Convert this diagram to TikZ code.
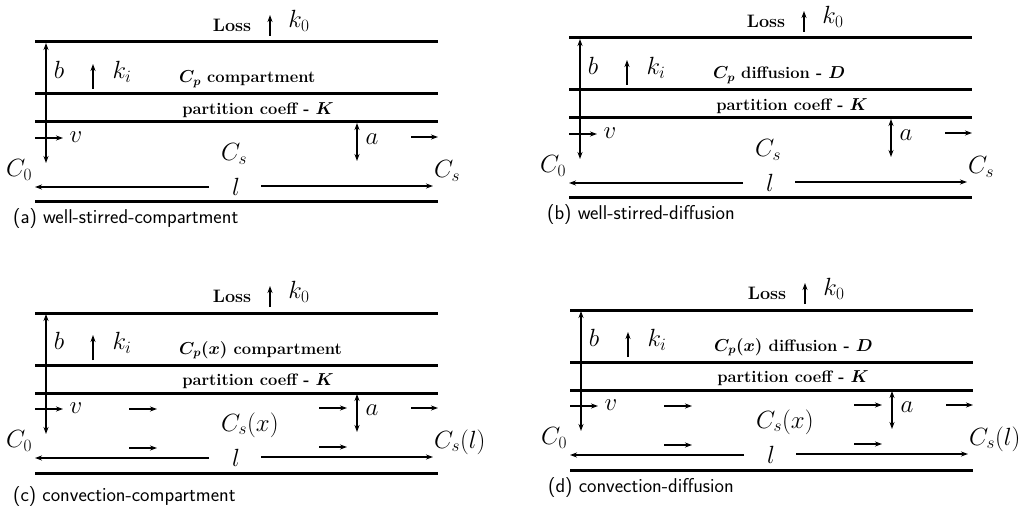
\documentclass[tikz,border=0pt]{standalone}
\usetikzlibrary{arrows.meta}
\begin{document}
\begin{tikzpicture}[x=1pt,y=-1pt,
  wall/.style={line width=3pt},
  lbl/.style={font=\bfseries\boldmath\fontsize{16.5}{19}\selectfont, inner sep=1pt},
  losstxt/.style={font=\bfseries\fontsize{18}{20}\selectfont, inner sep=1pt},
  mth/.style={font=\fontsize{23}{26}\selectfont, inner sep=1pt},
  captxt/.style={font=\sffamily\fontsize{20}{23}\selectfont, anchor=west, inner sep=0pt},
  arr/.style={line width=1.4pt, -{Stealth[length=7pt,width=5pt]}},
  darr/.style={line width=1.4pt, {Stealth[length=7pt,width=5pt]}-{Stealth[length=7pt,width=5pt]}}]
\useasboundingbox (0,0) rectangle (1026,516);
\newcommand\drawpanel[9]{%
\begin{scope}[shift={(#1,#2)}]
  % walls
  \coordinate (#3t0) at (35,42);  \coordinate (#3t1) at (438,42);
  \coordinate (#3m0) at (35,94);  \coordinate (#3m1) at (438,94);
  \coordinate (#3p0) at (35,122); \coordinate (#3p1) at (438,122);
  \coordinate (#3w0) at (35,202); \coordinate (#3w1) at (438,202);
  \draw[wall] (#3t0) -- (#3t1);
  \draw[wall] (#3m0) -- (#3m1);
  \draw[wall] (#3p0) -- (#3p1);
  \draw[wall] (#3w0) -- (#3w1);
  % loss
  \node[losstxt] (#3loss) at (232,25) {Loss};
  \coordinate (#3ua) at (270,36); \coordinate (#3ub) at (270,15);
  \draw[arr] (#3ua) -- (#3ub);
  \node[mth] (#3k0) at (299,21) {$k_0$};
  % b arrow
  \coordinate (#3b0) at (46,43); \coordinate (#3b1) at (46,163);
  \draw[darr] (#3b0) -- (#3b1);
  \node[mth] (#3b) at (59,70) {$b$};
  \coordinate (#3ka) at (93,89); \coordinate (#3kb) at (93,64);
  \draw[arr] (#3ka) -- (#3kb);
  \node[mth] (#3ki) at (122,72) {$k_i$};
  \node[lbl,anchor=west] (#3cp) at (178,79) {#5};
  \node[lbl] (#3pc) at (258,110) {partition coeff - $K$};
  % v arrow
  \coordinate (#3v0) at (35,138); \coordinate (#3v1) at (63,138);
  \draw[arr] (#3v0) -- (#3v1);
  \node[mth] (#3v) at (76,137) {$v$};
  % a arrow
  \coordinate (#3a0) at (357,123); \coordinate (#3a1) at (357,161);
  \draw[darr] (#3a0) -- (#3a1);
  \node[mth] (#3a) at (372,139) {$a$};
  \coordinate (#3r0) at (411,137); \coordinate (#3r1) at (438,137);
  \draw[arr] (#3r0) -- (#3r1);
  % concentrations
  \node[mth] (#3c0) at (19,170) {$C_0$};
  \node[mth,anchor=west] (#3cs) at (220,154) {#6};
  \node[mth,anchor=west] (#3csr) at (433,171) {#7};
  % length
  \coordinate (#3l0) at (209,187); \coordinate (#3l1) at (35,187);
  \draw[arr] (#3l0) -- (#3l1);
  \node[mth] (#3l) at (236,187) {$l$};
  \coordinate (#3l2) at (261,186); \coordinate (#3l3) at (433,186);
  \draw[arr] (#3l2) -- (#3l3);
  \ifnum#8=1
    \coordinate (#3x0) at (129,138); \coordinate (#3x1) at (157,138);
    \draw[arr] (#3x0) -- (#3x1);
    \coordinate (#3y0) at (319,137); \coordinate (#3y1) at (347,137);
    \draw[arr] (#3y0) -- (#3y1);
    \coordinate (#3z0) at (129,177); \coordinate (#3z1) at (157,177);
    \draw[arr] (#3z0) -- (#3z1);
    \coordinate (#3q0) at (319,176); \coordinate (#3q1) at (347,176);
    \draw[arr] (#3q0) -- (#3q1);
  \fi
  \node[captxt] (#3cap) at (13,#9) {#4};
\end{scope}}
\drawpanel{0}{0}{A}{(a) well-stirred-compartment}{$C_p$ compartment}{$C_s$}{$C_s$}{0}{219}
\drawpanel{534}{-4}{B}{(b) well-stirred-diffusion}{$C_p$ diffusion - $D$}{$C_s$}{$C_s$}{0}{219}
\drawpanel{0}{271}{C}{(c) convection-compartment}{$C_p(x)$ compartment}{$C_s(x)$}{$C_s(l)$}{1}{226}
\drawpanel{535}{268}{D}{(d) convection-diffusion}{$C_p(x)$ diffusion - $D$}{$C_s(x)$}{$C_s(l)$}{1}{220}
\end{tikzpicture}
\end{document}
